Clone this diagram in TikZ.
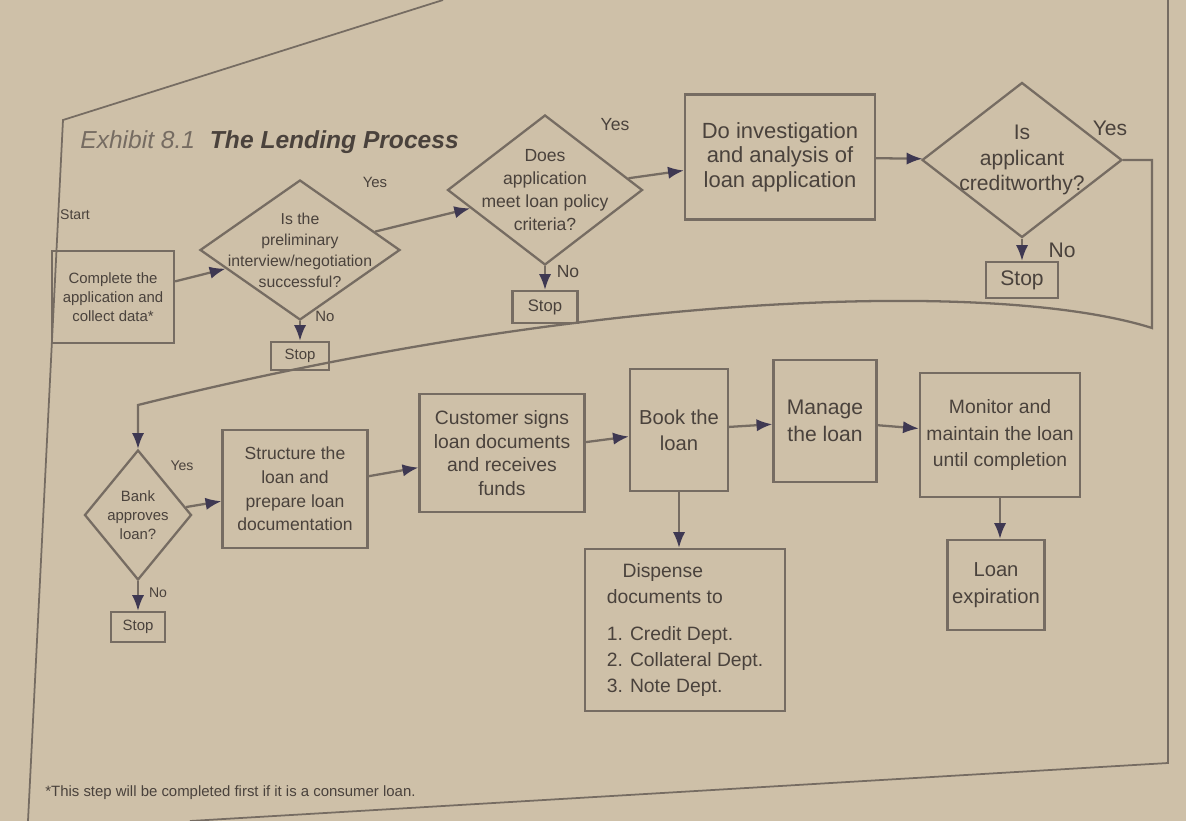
\documentclass[tikz,border=0pt]{standalone}
\usepackage{fontspec}
\setmainfont{Liberation Sans}
\usetikzlibrary{shapes.geometric,arrows.meta,positioning,calc}
\definecolor{paper}{RGB}{206,192,168}
\definecolor{ink}{RGB}{74,66,60}
\definecolor{edge}{RGB}{118,108,98}
\definecolor{tip}{RGB}{62,56,82}
\newcommand{\fsz}[2]{\fontsize{#1}{#2}\selectfont}
\tikzset{
blk/.style 2 args={draw=edge,line width=1.3pt,rectangle,minimum width=#1*0.02cm,minimum height=#2*0.02cm,inner sep=1pt,align=center,text=ink},
dia/.style 2 args={draw=edge,line width=1.3pt,diamond,minimum width=#1*0.02cm,minimum height=#2*0.02cm,inner sep=0pt},
txt/.style={text=ink,align=center,inner sep=0pt},
flow/.style={draw=edge,line width=1.3pt,-{Latex[length=9pt,width=7pt,color=tip]}},
}

\begin{document}
\begin{tikzpicture}[x=0.02cm,y=-0.02cm]
  \fill[paper] (0,0) rectangle (1186,821);
  \useasboundingbox (0,0) rectangle (1186,821);
  % page frame
  \draw[edge,line width=1pt] (443,0) -- (63,120) -- (28,821);
  \draw[edge,line width=1pt] (1168,0) -- (1168,763) -- (190,821);
  \node[txt,anchor=base west,font=\fsz{14}{16}\itshape] (title) at (80,148)
    {\textcolor{edge}{Exhibit 8.1}\hspace{0.6em}\textbf{The Lending Process}};
  \node[txt,font=\fsz{8}{9}] (start) at (75,215) {Start};

  % first row
  \node[blk={122}{92},font=\fsz{8.5}{11}] (collect) at (113,297) {Complete the\\application and\\collect data*};
  \node[dia={200}{140}] (qPrelim) at (300,250) {};
  \node[txt,font=\fsz{9}{12}] (qPrelimT) at (qPrelim) {Is the\\preliminary\\interview/negotiation\\successful?};
  \node[blk={58}{28},font=\fsz{8.5}{10}] (stop1) at (300,356) {Stop};
  \node[dia={195}{150}] (qPolicy) at (545,190) {};
  \node[txt,font=\fsz{10}{13}] (qPolicyT) at (qPolicy) {Does\\application\\meet loan policy\\criteria?};
  \node[blk={65}{32},font=\fsz{9.5}{11}] (stop2) at (545,307) {Stop};
  \node[blk={190}{125},font=\fsz{12.5}{14}] (investigate) at (780,157) {Do investigation\\and analysis of\\loan application};
  \node[dia={200}{155}] (qCredit) at (1022,160) {};
  \node[txt,font=\fsz{12}{14.5}] (qCreditT) at (qCredit) {Is\\applicant\\creditworthy?};
  \node[blk={72}{36},font=\fsz{12}{14}] (stop3) at (1022,280) {Stop};

  \node[txt,font=\fsz{8.5}{10}] (yes1) at (375,182) {Yes};
  \node[txt,font=\fsz{8.5}{10}] (no1) at (325,316) {No};
  \node[txt,font=\fsz{10}{12}] (yes2) at (615,125) {Yes};
  \node[txt,font=\fsz{10}{12}] (no2) at (568,272) {No};
  \node[txt,font=\fsz{12}{14}] (yes3) at (1110,128) {Yes};
  \node[txt,font=\fsz{12}{14}] (no3) at (1062,250) {No};

  % second row
  \node[dia={107}{130}] (qBank) at (138,515) {};
  \node[txt,font=\fsz{8.5}{11}] (qBankT) at (qBank) {Bank\\approves\\loan?};
  \node[blk={54}{30},font=\fsz{8.5}{10}] (stop4) at (138,627) {Stop};
  \node[blk={145}{118},font=\fsz{10}{13.5}] (structure) at (295,489) {Structure the\\loan and\\prepare loan\\documentation};
  \node[blk={165}{118},font=\fsz{11}{13.5}] (signs) at (502,453) {Customer signs\\loan documents\\and receives\\funds};
  \node[blk={98}{122},font=\fsz{11.5}{15}] (book) at (679,430) {Book the\\loan};
  \node[blk={103}{122},font=\fsz{12}{15}] (manage) at (825,421) {Manage\\the loan};
  \node[blk={160}{124},font=\fsz{11}{15}] (monitor) at (1000,435) {Monitor and\\maintain the loan\\until completion};
  \node[blk={200}{162},font=\fsz{11}{15},align=left] (dispense) at (685,630)
    {\hspace*{9pt}Dispense\\documents to\\[6pt]1. Credit Dept.\\2. Collateral Dept.\\3. Note Dept.};
  \node[blk={97}{90},font=\fsz{11.5}{15}] (expire) at (996,585) {Loan\\expiration};

  \node[txt,font=\fsz{8}{10}] (yes4) at (182,466) {Yes};
  \node[txt,font=\fsz{8}{10}] (no4) at (158,593) {No};

  \node[txt,anchor=base west,font=\fsz{8.5}{10}] (note) at (45,796)
    {*This step will be completed first if it is a consumer loan.};

  % connectors
  \draw[flow] (collect) -- (qPrelim);
  \draw[flow] (qPrelim) -- (qPolicy);
  \draw[flow] (qPolicy) -- (investigate);
  \draw[flow] (investigate) -- (qCredit);
  \draw[flow] (qPrelim.south) -- (stop1);
  \draw[flow] (qPolicy.south) -- (stop2);
  \draw[flow] (qCredit.south) -- (stop3);

  \coordinate (turnR) at (1152,328);
  \coordinate (turnL) at (138,405);
  \draw[flow] (qCredit.east) -| (turnR) .. controls (1000,280) and (600,290) .. (turnL) -- (qBank.north);

  \draw[flow] (qBank) -- (structure);
  \draw[flow] (structure) -- (signs);
  \draw[flow] (signs) -- (book);
  \draw[flow] (book) -- (manage);
  \draw[flow] (manage) -- (monitor);
  \draw[flow] (qBank.south) -- (stop4);
  \draw[flow] (book.south) -- (book.south |- dispense.north);
  \draw[flow] (monitor.south) -- (monitor.south |- expire.north);
\end{tikzpicture}
\end{document}
